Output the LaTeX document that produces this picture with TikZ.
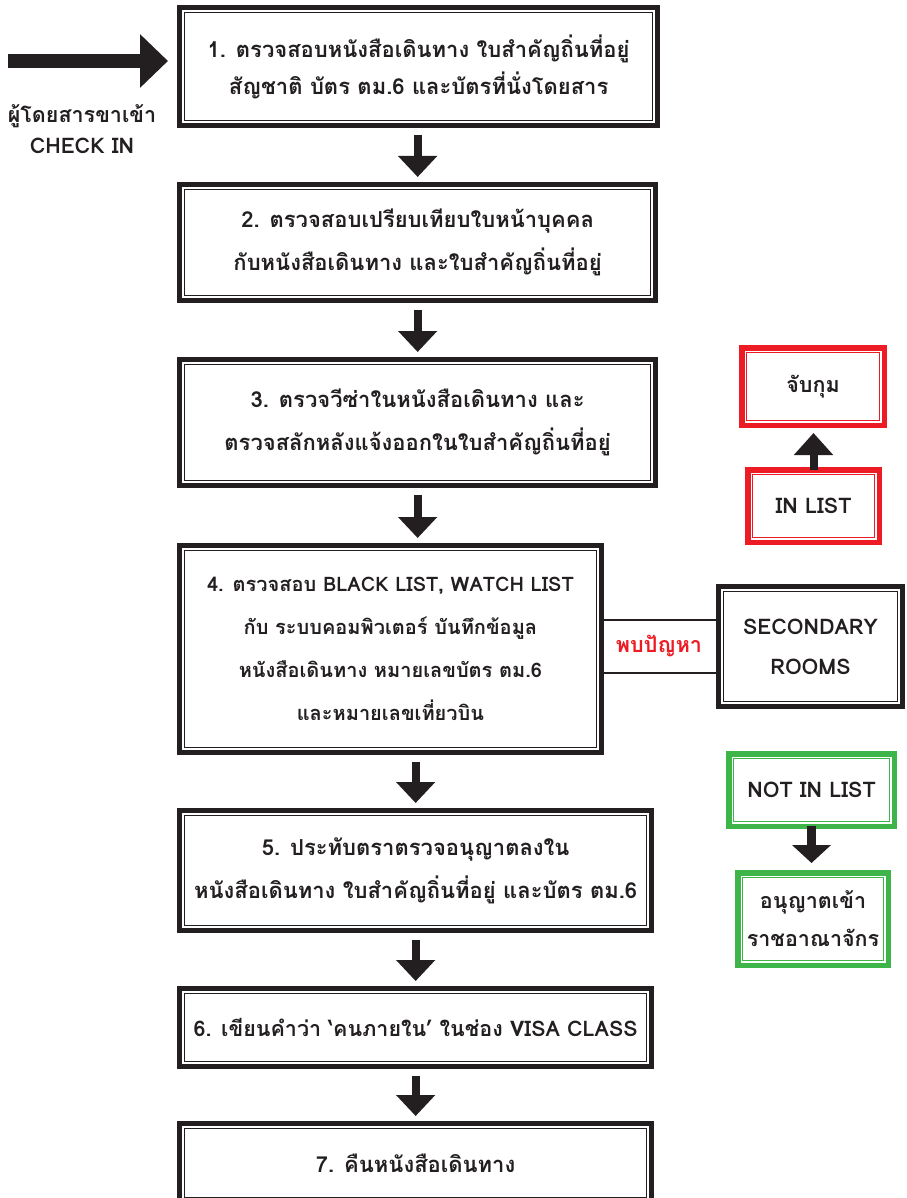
\documentclass[tikz,border=0pt]{standalone}
\usepackage{fontspec}
\newfontfamily\thai[Script=Thai]{Loma}
\usetikzlibrary{arrows.meta,calc}
\definecolor{ink}{HTML}{231F20}
\definecolor{rd}{HTML}{ED1C24}
\definecolor{gn}{HTML}{3DB549}
\newcommand\innerframe[2]{\draw[#2, line width=1.3pt] ($(#1.north west)+(5pt,-5pt)$) rectangle ($(#1.south east)+(-5pt,5pt)$);}
\begin{document}
\begin{tikzpicture}[x=1pt,y=-1pt,
 txt/.style={font=\thai\bfseries\fontsize{21.5}{43}\selectfont, text=ink, align=center},
 box/.style={txt, draw=ink, line width=4.7pt, inner sep=0pt, outer sep=0pt},
 mbox/.style={box, font=\thai\bfseries\fontsize{22}{43}\selectfont},
 rbox/.style={box, draw=rd, line width=5.5pt},
 gbox/.style={box, draw=gn, line width=5.5pt},
 down/.style={draw=ink, line width=8pt, -{Triangle[width=38pt,length=21pt]}},
 conn/.style={draw=ink, line width=2pt},
]
\useasboundingbox[fill=white] (0,0) rectangle (906,1198);
% main column
\node[mbox, minimum width=478pt, minimum height=118.3pt, font=\thai\bfseries\fontsize{22}{37}\selectfont] (b1) at (418.65,66.5)
 {1. ตรวจสอบหนังสือเดินทาง ใบสำคัญถิ่นที่อยู่\\สัญชาติ บัตร ตม.6 และบัตรที่นั่งโดยสาร};
\node[mbox, minimum width=476pt, minimum height=116.3pt] (b2) at (417.65,242.5)
 {2. ตรวจสอบเปรียบเทียบใบหน้าบุคคล\\กับหนังสือเดินทาง และใบสำคัญถิ่นที่อยู่};
\node[mbox, minimum width=476pt, minimum height=126.3pt] (b3) at (417.65,422.5)
 {3. ตรวจวีซ่าในหนังสือเดินทาง และ\\ตรวจสลักหลังแจ้งออกในใบสำคัญถิ่นที่อยู่};
\node[box, minimum width=421.5pt, minimum height=207.3pt, font=\thai\bfseries\fontsize{20}{43}\selectfont] (b4) at (390.4,649)
 {4. ตรวจสอบ BLACK LIST, WATCH LIST\\กับ ระบบคอมพิวเตอร์ บันทึกข้อมูล\\หนังสือเดินทาง หมายเลขบัตร ตม.6\\และหมายเลขเที่ยวบิน};
\node[mbox, minimum width=472pt, minimum height=120.3pt] (b5) at (415.65,870.5)
 {5. ประทับตราตรวจอนุญาตลงใน\\หนังสือเดินทาง ใบสำคัญถิ่นที่อยู่ และบัตร ตม.6};
\node[box, minimum width=472pt, minimum height=78.3pt] (b6) at (415.65,1027.5)
 {6. เขียนคำว่า ‘คนภายใน’ ในช่อง VISA CLASS};
\node[mbox, minimum width=472pt, minimum height=79.3pt] (b7) at (415.65,1163)
 {7. คืนหนังสือเดินทาง};
\foreach \n in {b1,b2,b3,b4,b5,b6,b7}{\innerframe{\n}{ink}}
% side boxes
\node[rbox, minimum width=142.5pt, minimum height=77.5pt] (cap) at (813,386.5) {จับกุม};
\node[rbox, minimum width=131.5pt, minimum height=72.5pt] (inlist) at (813.5,506) {IN LIST};
\innerframe{cap}{rd}\innerframe{inlist}{rd}
\node[box, minimum width=184.3pt, minimum height=120.3pt, font=\thai\bfseries\fontsize{21.5}{40}\selectfont] (sec) at (810.5,646.5) {SECONDARY\\ROOMS};
\innerframe{sec}{ink}
\node[gbox, minimum width=165.5pt, minimum height=72.5pt] (notin) at (811.5,790) {NOT IN LIST};
\node[gbox, minimum width=150.5pt, minimum height=92.5pt, font=\thai\bfseries\fontsize{21.5}{38}\selectfont] (allow) at (813,919) {อนุญาตเข้า\\ราชอาณาจักร};
\innerframe{notin}{gn}\innerframe{allow}{gn}
% entry label and arrow
\node[txt, font=\thai\bfseries\fontsize{21.5}{31}\selectfont] (entry) at (82,129) {ผู้โดยสารขาเข้า\\CHECK IN};
\coordinate (src) at (8,61);
\draw[draw=ink, line width=14pt, -{Triangle[width=52pt,length=28pt]}] (src) -- ($(src -| b1.west)+(-11.65pt,0)$);
% down arrows
\draw[down] ($(b1.south -| b2.north)+(0,-9.35pt)$) -- ($(b2.north)+(0,7.35pt)$);
\draw[down] ($(b2.south)+(0,-9.35pt)$) -- ($(b3.north)+(0,7.35pt)$);
\draw[down] ($(b3.south)+(0,-9.35pt)$) -- ($(b4.north -| b3.north)+(0,7.35pt)$);
\draw[down] ($(b4.south -| b5.north)+(0,-9.35pt)$) -- ($(b5.north)+(0,7.35pt)$);
\draw[down] ($(b5.south)+(0,-9.35pt)$) -- ($(b6.north)+(0,7.35pt)$);
\draw[down] ($(b6.south)+(0,-9.35pt)$) -- ($(b7.north)+(0,7.35pt)$);
% side arrows
\draw[draw=ink, line width=8pt, -{Triangle[width=38pt,length=22pt]}] (inlist.north) -- ($(inlist.north |- cap.south)+(0,-7.75pt)$);
\draw[draw=ink, line width=9pt, -{Triangle[width=38pt,length=18pt]}] (notin.south) -- ($(notin.south |- allow.north)+(0,9.75pt)$);
% problem connector
\draw[conn] ($(b4.east)+(0,29pt)$) -- ($(b4.east -| sec.west)+(0,29pt)$);
\draw[conn] ($(b4.east)+(0,-24pt)$) -- ($(b4.east -| sec.west)+(0,-24pt)$);
\node[txt, text=rd] (prob) at (659,646) {พบปัญหา};
\end{tikzpicture}
\end{document}
